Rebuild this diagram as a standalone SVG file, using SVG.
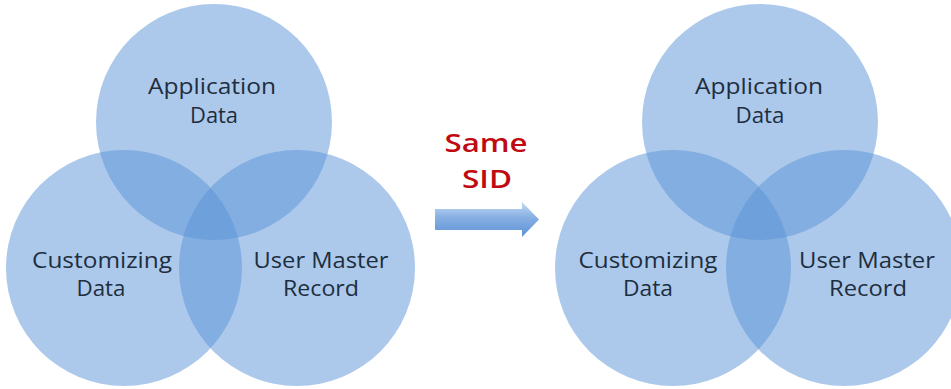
<svg xmlns="http://www.w3.org/2000/svg" width="951" height="389" viewBox="0 0 951 389">
  <style>
    .set { fill: #5a94d7; fill-opacity: 0.5; }
    .lbl { font-family: "Open Sans", "DejaVu Sans", sans-serif; font-size: 21px; fill: #1e2e3e; text-anchor: middle; }
    .note { font-family: "Open Sans", "Liberation Sans", sans-serif; font-size: 26px; font-weight: 600; fill: #c00a12; text-anchor: middle; }
  </style>
  <defs>
    <linearGradient id="arrowFill" x1="0" y1="0" x2="0" y2="1">
      <stop offset="0" stop-color="#c4daf3"/>
      <stop offset="0.45" stop-color="#86afe3"/>
      <stop offset="1" stop-color="#5f92d6"/>
    </linearGradient>
  </defs>
  <rect width="951" height="389" fill="#ffffff"/>

  <!-- Left Venn diagram -->
  <g id="left-application-data">
    <circle class="set" cx="214" cy="122" r="118"/>
    <text class="lbl" x="212" y="94" textLength="128" lengthAdjust="spacingAndGlyphs">Application</text>
    <text class="lbl" x="214" y="123" textLength="48" lengthAdjust="spacingAndGlyphs">Data</text>
  </g>
  <g id="left-customizing-data">
    <circle class="set" cx="124" cy="268" r="118"/>
    <text class="lbl" x="102" y="268" textLength="140" lengthAdjust="spacingAndGlyphs">Customizing</text>
    <text class="lbl" x="101" y="296" textLength="49" lengthAdjust="spacingAndGlyphs">Data</text>
  </g>
  <g id="left-user-master-record">
    <circle class="set" cx="297" cy="268" r="118"/>
    <text class="lbl" x="321" y="268" textLength="135" lengthAdjust="spacingAndGlyphs">User Master</text>
    <text class="lbl" x="321" y="296" textLength="76" lengthAdjust="spacingAndGlyphs">Record</text>
  </g>

  <!-- Right Venn diagram -->
  <g id="right-application-data">
    <circle class="set" cx="760" cy="122" r="118"/>
    <text class="lbl" x="759" y="94" textLength="128" lengthAdjust="spacingAndGlyphs">Application</text>
    <text class="lbl" x="760" y="123" textLength="49" lengthAdjust="spacingAndGlyphs">Data</text>
  </g>
  <g id="right-customizing-data">
    <circle class="set" cx="673" cy="268" r="118"/>
    <text class="lbl" x="648" y="268" textLength="139" lengthAdjust="spacingAndGlyphs">Customizing</text>
    <text class="lbl" x="648" y="296" textLength="50" lengthAdjust="spacingAndGlyphs">Data</text>
  </g>
  <g id="right-user-master-record">
    <circle class="set" cx="844" cy="268" r="118"/>
    <text class="lbl" x="867" y="268" textLength="136" lengthAdjust="spacingAndGlyphs">User Master</text>
    <text class="lbl" x="868" y="296" textLength="78" lengthAdjust="spacingAndGlyphs">Record</text>
  </g>

  <!-- Transition arrow -->
  <g id="connectors">
    <path d="M435 209 H522 V202 L539 219.5 L522 237 V230 H435 Z" fill="url(#arrowFill)"/>
    <text class="note" x="486" y="152" textLength="83" lengthAdjust="spacingAndGlyphs">Same</text>
    <text class="note" x="487" y="188" textLength="50" lengthAdjust="spacingAndGlyphs">SID</text>
  </g>
</svg>
